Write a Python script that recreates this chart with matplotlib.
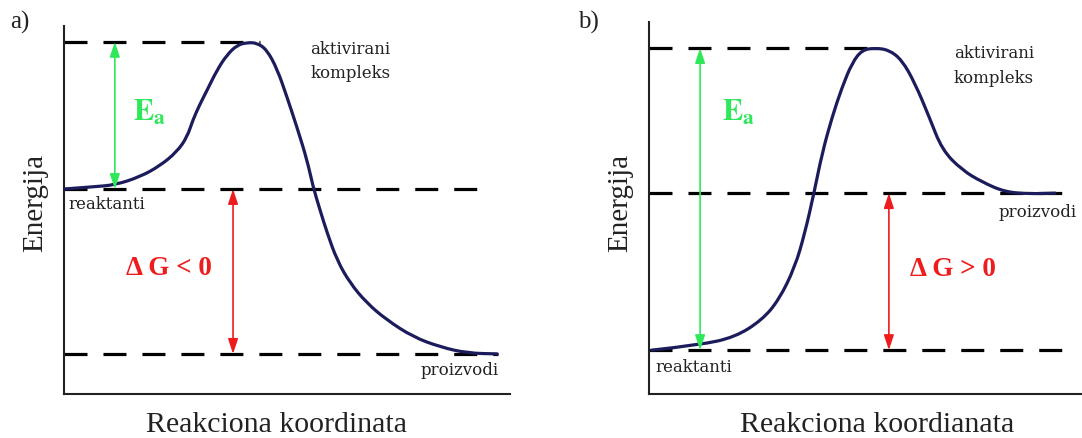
import matplotlib
matplotlib.use("Agg")
from matplotlib import pyplot as plt
from matplotlib.path import Path
from matplotlib.patches import PathPatch

plt.rcParams['font.family'] = ['Liberation Serif', 'DejaVu Serif']
plt.rcParams['mathtext.fontset'] = 'stix'

# a) egzotermna reakcija
xa = [0, 6.5, 11.4, 17.0, 21.5, 25.3, 27.6, 28.9, 30.5, 32.1, 34.3, 36.5, 38.8, 41.0,
      43.3, 45.5, 47.8, 50.0, 52.2, 54.5, 55.8, 57.4, 59.0, 61.2, 64.1, 67.9, 72.4,
      78.3, 84.3, 90.4, 97.1]
Ea_curve = [55.7, 56.3, 56.8, 59.0, 62.0, 65.8, 69.8, 74.5, 78.8, 82.6, 88.0, 92.1, 94.8,
            95.5, 95.4, 93.5, 88.3, 80.7, 72.6, 63.6, 56.5, 50.0, 43.8, 36.4, 30.2, 24.7,
            20.1, 15.5, 12.8, 11.1, 10.9]
a_levels = [95.7, 55.7, 10.9]          # aktivirani kompleks, reaktanti, proizvodi
a_level_ends = [43.9, 93.9, 97.3]

# b) endotermna reakcija
xb = [0.7, 11.8, 19.9, 26.1, 30.0, 33.7, 36.0, 38.1, 40.0, 42.3, 44.6, 46.9, 49.2,
      52.2, 55.4, 58.4, 61.4, 64.7, 67.7, 72.3, 76.9, 82.2, 87.8, 93.8]
Eb_curve = [11.8, 13.2, 15.3, 19.9, 25.3, 34.1, 43.3, 54.0, 64.8, 74.5, 82.5, 89.0, 92.5,
            93.0, 92.5, 89.8, 83.6, 74.5, 65.6, 60.2, 57.0, 54.3, 53.8, 54.0]
b_levels = [93.0, 54.0, 11.8]          # aktivirani kompleks, proizvodi, reaktanti
b_level_ends = [53.8, 96.1, 97.0]

W, H = 1082, 438
fig = plt.figure(figsize=(W / 100, H / 100), dpi=100)
fig.patch.set_facecolor('white')

curve_col = '#1c1c5c'
green = '#2ee85a'
red = '#ee1c1c'
ink = '#222222'
small = dict(fontsize=12, va='center', color=ink, family='DejaVu Serif')


def make_ax(x0, y_top, y_bot, x1):
    ax = fig.add_axes([x0 / W, 1 - y_bot / H, (x1 - x0) / W, (y_bot - y_top) / H])
    ax.set_xlim(0, 100)
    ax.set_ylim(0, 100)
    for s in ['top', 'right']:
        ax.spines[s].set_visible(False)
    for s in ['left', 'bottom']:
        ax.spines[s].set_linewidth(1.5)
        ax.spines[s].set_color(ink)
    ax.set_xticks([])
    ax.set_yticks([])
    ax.patch.set_alpha(0)
    return ax


def energy_curve(ax, xs, ys):
    # glatka kriva: tacke su kontrolne tacke kvadratnih Bezijerovih segmenata
    verts = [(xs[0], ys[0])]
    codes = [Path.MOVETO]
    for i in range(1, len(xs) - 1):
        verts += [(xs[i], ys[i]), ((xs[i] + xs[i + 1]) / 2, (ys[i] + ys[i + 1]) / 2)]
        codes += [Path.CURVE3, Path.CURVE3]
    verts.append((xs[-1], ys[-1]))
    codes.append(Path.LINETO)
    ax.add_patch(PathPatch(Path(verts, codes), fill=False, edgecolor=curve_col,
                           lw=2.3, capstyle='round', joinstyle='round', zorder=3))


def arrow(ax, x, y0, y1, color):
    ax.annotate('', xy=(x, y1), xytext=(x, y0),
                arrowprops=dict(arrowstyle='<|-|>,head_length=0.9,head_width=0.3',
                                color=color, lw=1.2, shrinkA=0, shrinkB=0))


def levels(ax, ys, ends):
    for y, e in zip(ys, ends):
        ax.plot([0, e], [y, y], color='black', lw=2.3, dashes=(7.2, 5.0),
                dash_capstyle='butt', clip_on=False)


# panel a
axa = make_ax(64, 26, 394, 510)
levels(axa, a_levels, a_level_ends)
energy_curve(axa, xa, Ea_curve)
arrow(axa, 11.4, a_levels[1], a_levels[0], green)
arrow(axa, 37.9, a_levels[1], a_levels[2], red)
axa.text(15.5, 76.4, r'$\mathbf{E_a}$', color=green, fontsize=22, va='center')
axa.text(13.9, 34.0, 'Δ G < 0', color=red, fontsize=19.5, fontweight='bold', va='center')
axa.text(55.2, 93.5, 'aktivirani', **small)
axa.text(55.2, 87.0, 'kompleks', **small)
axa.text(1.1, 51.6, 'reaktanti', **small)
axa.text(80.0, 6.5, 'proizvodi', **small)

# panel b
axb = make_ax(649, 22, 394, 1082)
levels(axb, b_levels, b_level_ends)
energy_curve(axb, xb, Eb_curve)
arrow(axb, 11.8, b_levels[2], b_levels[0], green)
arrow(axb, 55.4, b_levels[1], b_levels[2], red)
axb.text(16.9, 75.5, r'$\mathbf{E_a}$', color=green, fontsize=22, va='center')
axb.text(60.3, 33.6, 'Δ G > 0', color=red, fontsize=19.5, fontweight='bold', va='center')
axb.text(70.4, 91.4, 'aktivirani', **small)
axb.text(70.4, 84.7, 'kompleks', **small)
axb.text(80.8, 48.9, 'proizvodi', **small)
axb.text(1.4, 7.0, 'reaktanti', **small)

# oznake panela i osa
fig.text(10 / W, 1 - 22 / H, 'a)', fontsize=18, va='center', ha='left', color=ink)
fig.text(578 / W, 1 - 22 / H, 'b)', fontsize=18, va='center', ha='left', color=ink)
for x in [35, 620]:
    fig.text(x / W, 1 - 203 / H, 'Energija', fontsize=21, rotation=90,
             va='center', ha='center', color=ink)
fig.text(277 / W, 1 - 425 / H, 'Reakciona koordinata', fontsize=21.5,
         va='center', ha='center', color=ink)
fig.text(877 / W, 1 - 425 / H, 'Reakciona koordianata', fontsize=21.5,
         va='center', ha='center', color=ink)

fig.savefig('out.png', dpi=100, facecolor='white')
